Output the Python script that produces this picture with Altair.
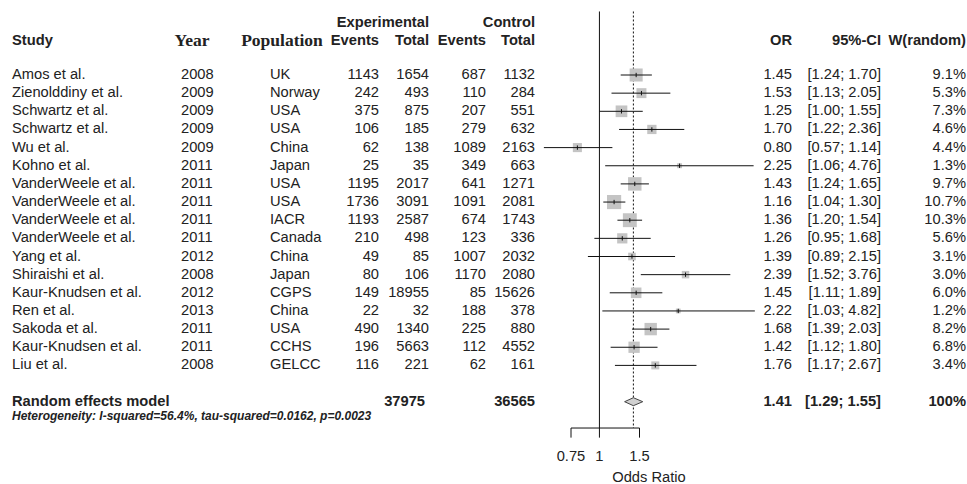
import altair as alt
import pandas as pd

# ---------------- data ----------------
study = ["Amos et al.", "Zienolddiny et al.", "Schwartz et al.", "Schwartz et al.", "Wu et al.",
         "Kohno et al.", "VanderWeele et al.", "VanderWeele et al.", "VanderWeele et al.",
         "VanderWeele et al.", "Yang et al.", "Shiraishi et al.", "Kaur-Knudsen et al.",
         "Ren et al.", "Sakoda et al.", "Kaur-Knudsen et al.", "Liu et al."]
year = [2008, 2009, 2009, 2009, 2009, 2011, 2011, 2011, 2011, 2011, 2012, 2008, 2012, 2013, 2011, 2011, 2008]
population = ["UK", "Norway", "USA", "USA", "China", "Japan", "USA", "USA", "IACR", "Canada",
              "China", "Japan", "CGPS", "China", "USA", "CCHS", "GELCC"]
exp_events = [1143, 242, 375, 106, 62, 25, 1195, 1736, 1193, 210, 49, 80, 149, 22, 490, 196, 116]
exp_total = [1654, 493, 875, 185, 138, 35, 2017, 3091, 2587, 498, 85, 106, 18955, 32, 1340, 5663, 221]
ctrl_events = [687, 110, 207, 279, 1089, 349, 641, 1091, 674, 123, 1007, 1170, 85, 188, 225, 112, 62]
ctrl_total = [1132, 284, 551, 632, 2163, 663, 1271, 2081, 1743, 336, 2032, 2080, 15626, 378, 880, 4552, 161]
odds = [1.45, 1.53, 1.25, 1.70, 0.80, 2.25, 1.43, 1.16, 1.36, 1.26, 1.39, 2.39, 1.45, 2.22, 1.68, 1.42, 1.76]
ci_lo = [1.24, 1.13, 1.00, 1.22, 0.57, 1.06, 1.24, 1.04, 1.20, 0.95, 0.89, 1.52, 1.11, 1.03, 1.39, 1.12, 1.17]
ci_hi = [1.70, 2.05, 1.55, 2.36, 1.14, 4.76, 1.65, 1.30, 1.54, 1.68, 2.15, 3.76, 1.89, 4.82, 2.03, 1.80, 2.67]
weight = [9.1, 5.3, 7.3, 4.6, 4.4, 1.3, 9.7, 10.7, 10.3, 5.6, 3.1, 3.0, 6.0, 1.2, 8.2, 6.8, 3.4]

summary_or = 1.41
summary_lo = 1.29
summary_hi = 1.55
summary_exp_total = 37975
summary_ctrl_total = 36565
heterogeneity = "Heterogeneity: I-squared=56.4%, tau-squared=0.0162, p=0.0023"
tick_values = [0.75, 1, 1.5]
tick_labels = ["0.75", "1", "1.5"]
null_value = 1.0

# ---------------- table ----------------
df = pd.DataFrame({
    "row": list(range(len(study))),
    "study": study, "year": [str(y) for y in year], "pop": population,
    "ee": [str(v) for v in exp_events], "et": [str(v) for v in exp_total],
    "ce": [str(v) for v in ctrl_events], "ct": [str(v) for v in ctrl_total],
    "or": odds, "lo": ci_lo, "hi": ci_hi, "w": weight,
})
df["or_txt"] = [f"{v:.2f}" for v in odds]
df["ci_txt"] = [f"[{a:.2f}; {b:.2f}]" for a, b in zip(ci_lo, ci_hi)]
df["w_txt"] = [f"{v:.1f}%" for v in weight]

FONT = "Liberation Sans"
SERIF = "Liberation Serif"
SIZE = 14.7
COL = "#222222"

Y = alt.Scale(domain=[0, 16], range=[75, 365.4], zero=False, nice=False)
X = alt.Scale(type="log", domain=[0.75, 1.5], range=[571, 639.5], nice=False)


def ycol(field="row"):
    return alt.Y(f"{field}:Q", scale=Y, axis=None)


base = alt.Chart(df)


def col_text(field, x, align):
    return base.mark_text(align=align, baseline="middle", font=FONT, fontSize=SIZE,
                          color=COL).encode(x=alt.value(x), y=ycol(), text=f"{field}:N")


def label(s, x, row, align="left", weight="normal", style="normal", font=FONT, size=SIZE):
    d = pd.DataFrame({"t": [s], "row": [row]})
    return alt.Chart(d).mark_text(align=align, baseline="middle", font=font, fontSize=size,
                                  fontWeight=weight, fontStyle=style, color=COL).encode(
        x=alt.value(x), y=ycol(), text="t:N")


layers = []

# headers
H1, H2 = -2.88, -1.89
layers += [
    label("Study", 12, H2, weight="bold"),
    label("Year", 192, H2, align="center", weight="bold", font=SERIF, size=17.5),
    label("Population", 282, H2, align="center", weight="bold", font=SERIF, size=17.5),
    label("Experimental", 429, H1, align="right", weight="bold"),
    label("Events", 379, H2, align="right", weight="bold"),
    label("Total", 429, H2, align="right", weight="bold"),
    label("Control", 535, H1, align="right", weight="bold"),
    label("Events", 486, H2, align="right", weight="bold"),
    label("Total", 535, H2, align="right", weight="bold"),
    label("OR", 792, H2, align="right", weight="bold"),
    label("95%-CI", 881, H2, align="right", weight="bold"),
    label("W(random)", 966, H2, align="right", weight="bold"),
]

# study columns
layers += [
    col_text("study", 12, "left"),
    col_text("year", 181, "left"),
    col_text("pop", 270, "left"),
    col_text("ee", 379, "right"),
    col_text("et", 429, "right"),
    col_text("ce", 486, "right"),
    col_text("ct", 535, "right"),
    col_text("or_txt", 792, "right"),
    col_text("ci_txt", 881, "right"),
    col_text("w_txt", 966, "right"),
]

# summary row
SR = 18.0
layers += [
    label("Random effects model", 12, SR, weight="bold"),
    label(str(summary_exp_total), 425, SR, align="right", weight="bold"),
    label(str(summary_ctrl_total), 535, SR, align="right", weight="bold"),
    label(f"{summary_or:.2f}", 792, SR, align="right", weight="bold"),
    label(f"[{summary_lo:.2f}; {summary_hi:.2f}]", 881, SR, align="right", weight="bold"),
    label("100%", 966, SR, align="right", weight="bold"),
    label(heterogeneity, 12, 18.8, weight="bold", style="italic", size=12),
]

# reference lines
AXIS_ROW = 19.45
TICK_END = 19.98
ref = pd.DataFrame({"x": [null_value], "r1": [-3.5], "r2": [AXIS_ROW]})
layers.append(alt.Chart(ref).mark_rule(color="#111111", strokeWidth=1).encode(
    x=alt.X("x:Q", scale=X, axis=None), y=alt.Y("r1:Q", scale=Y, axis=None), y2="r2:Q"))
dref = pd.DataFrame({"x": [summary_or], "r1": [-3.5], "r2": [AXIS_ROW]})
layers.append(alt.Chart(dref).mark_rule(color="#111111", strokeWidth=1, strokeDash=[2, 2]).encode(
    x=alt.X("x:Q", scale=X, axis=None), y=alt.Y("r1:Q", scale=Y, axis=None), y2="r2:Q"))

# squares, CI lines, estimate ticks
layers.append(base.mark_square(color="#c4c4c4", opacity=1).encode(
    x=alt.X("or:Q", scale=X, axis=None), y=ycol(),
    size=alt.Size("w:Q", scale=alt.Scale(domain=[0, 10.7], range=[0, 200]), legend=None)))
layers.append(base.mark_rule(color="#111111", strokeWidth=1).encode(
    x=alt.X("lo:Q", scale=X, axis=None), x2="hi:Q", y=ycol()))
layers.append(base.transform_calculate(r1="datum.row - 0.12", r2="datum.row + 0.12").mark_rule(
    color="#111111", strokeWidth=1).encode(
    x=alt.X("or:Q", scale=X, axis=None), y=alt.Y("r1:Q", scale=Y, axis=None), y2="r2:Q"))

# diamond
dia = pd.DataFrame({"x": [summary_lo, summary_or, summary_hi],
                    "y1": [SR, SR - 0.22, SR], "y2": [SR, SR + 0.22, SR]})
layers.append(alt.Chart(dia).mark_area(fill="#d0d0d0", stroke="#444444", strokeWidth=1,
                                       orient="vertical", opacity=1).encode(
    x=alt.X("x:Q", scale=X, axis=None), y=alt.Y("y1:Q", scale=Y, axis=None), y2="y2:Q"))

# x axis
ax = pd.DataFrame({"x1": [min(tick_values)], "x2": [max(tick_values)], "r": [AXIS_ROW]})
layers.append(alt.Chart(ax).mark_rule(color="#111111", strokeWidth=1).encode(
    x=alt.X("x1:Q", scale=X, axis=None), x2="x2:Q", y=alt.Y("r:Q", scale=Y, axis=None)))
ticks = pd.DataFrame({"x": tick_values, "lab": tick_labels, "r1": [AXIS_ROW] * 3,
                      "r2": [TICK_END] * 3, "rl": [21.06] * 3})
layers.append(alt.Chart(ticks).mark_rule(color="#111111", strokeWidth=1).encode(
    x=alt.X("x:Q", scale=X, axis=None), y=alt.Y("r1:Q", scale=Y, axis=None), y2="r2:Q"))
layers.append(alt.Chart(ticks).mark_text(baseline="middle", align="center", font=FONT,
                                         fontSize=SIZE, color=COL).encode(
    x=alt.X("x:Q", scale=X, axis=None), y=alt.Y("rl:Q", scale=Y, axis=None), text="lab:N"))
layers.append(label("Odds Ratio", 649, 22.2, align="center"))

chart = alt.layer(*layers).properties(
    width=967, height=484, padding=0, autosize="none"
).configure_view(stroke=None)

chart.save("out.html", embed_options={"renderer": "svg", "actions": False})
